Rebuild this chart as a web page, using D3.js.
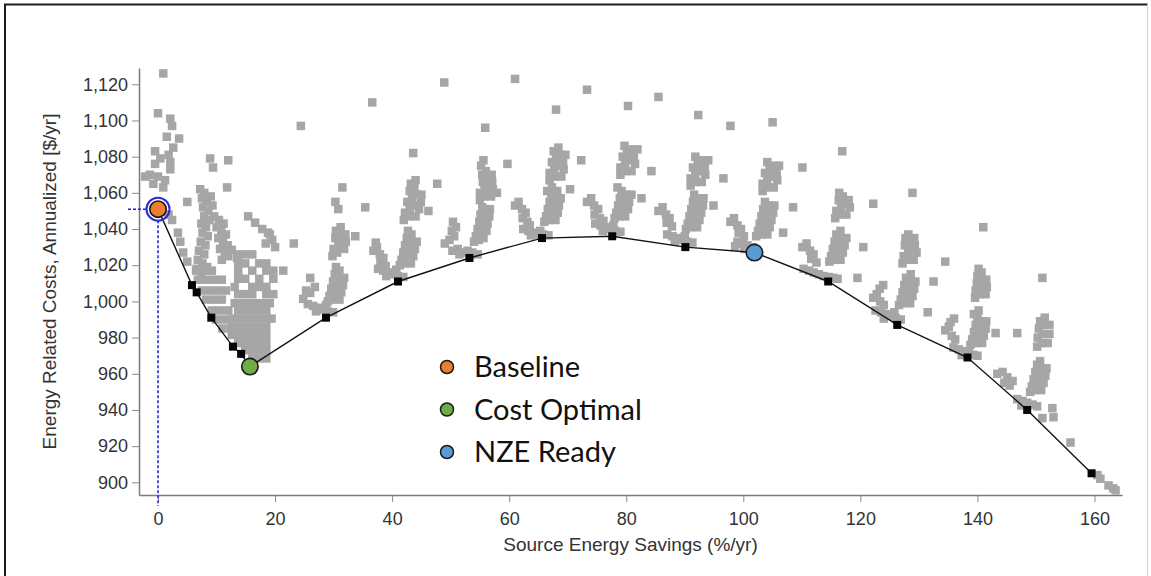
<!DOCTYPE html>
<html>
<head>
<meta charset="utf-8">
<script src="https://cdn.jsdelivr.net/npm/d3@7"></script>
<style>
  html, body { margin: 0; padding: 0; background: #fff; }
  svg { display: block; }
</style>
</head>
<body>
<svg id="chart" width="1151" height="576"></svg>
<script>
// Axis ticks
const xTicks = [0, 20, 40, 60, 80, 100, 120, 140, 160];
const yTicks = [900, 920, 940, 960, 980, 1000, 1020, 1040, 1060, 1080, 1100, 1120];

// Least-cost curve (source energy savings %, annualized cost $/yr)
const frontierSavings = [0, 5.8, 6.6, 9.1, 12.8, 14.2, 15.7, 28.7, 41.0, 53.2, 65.6, 77.6, 90.1, 101.9, 114.5, 126.3, 138.3, 148.5, 159.5];
const frontierCosts   = [1051, 1009, 1005, 991, 975, 971, 964, 991, 1011, 1024, 1035, 1036, 1030, 1027, 1011, 987, 969, 940, 905];

// Highlighted packages on the curve (index into the curve arrays)
const legendLabels = ["Baseline", "Cost Optimal", "NZE Ready"];
const legendColors = ["#ED7D31", "#70AD47", "#5B9BD5"];
const highlightIndex = [0, 6, 13];

// Simulated design options [savings %, cost $/yr]
const designsNearBaseline = [
  [0.9,1126],[0,1104],[2.1,1101],[2.4,1097],[1.5,1091],[3.6,1090],[2.6,1085],[-0.5,1083],
  [2.1,1077],[-0.5,1076],[-1.4,1070],[-2.2,1069],[0,1069],[-0.8,1065],[0.9,1063],[1.2,1067],
  [2.1,1073],[0.4,1079],[1.8,1081],
  [2.4,1045],[3.4,1038],[3.8,1033],[4.3,1027],[5.0,1022],[1.8,1048],
  [8.9,1079],[12.0,1078],[9.4,1074],[11.8,1063],[5.0,1055],[24.4,1097],[36.6,1110]
];

const designsLowSavings = [
  // first column
  [7.2,1062],[7.9,1060],[7.5,1057],[8.3,1055],[7.7,1052],[8.6,1050],[7.9,1047],[8.8,1045],
  [7.4,1043],[8.2,1041],[7.6,1038],[8.5,1036],[7.3,1033],[8.1,1031],[7.0,1028],[7.9,1026],
  [6.8,1023],[7.6,1021],[8.4,1019],[6.6,1018],[7.4,1016],[9.0,1058],[9.3,1053],
  [9.6,1047],[10.4,1045],[11.2,1043],[10.0,1041],[10.8,1039],[11.6,1037],[10.3,1035],[11.1,1033],
  [11.9,1031],[10.6,1029],[11.4,1027],[12.0,1025],[10.9,1023],[12.6,1028.5],[13.5,1024],
  [6.5,1017],[7.9,1017],[9.2,1017],[6.8,1012],[8.2,1012],[9.6,1012],[10.9,1012],
  [7.5,1006],[8.9,1006],[10.3,1006],[11.6,1006],[8.2,1001],[9.6,1001],[10.9,1001],
  [9.2,995],[10.6,995],[12.0,995],[9.9,990],[11.3,990],[12.4,985],[11.0,985],
  // second column
  [13.7,1026],[14.9,1026],[16.1,1026],
  [13.7,1021],[14.9,1021],[17.3,1021],[18.5,1021],
  [13.7,1017],[16.1,1017],[18.5,1017],[19.7,1017],
  [13.7,1012.5],[14.9,1012.5],[17.3,1012.5],[19.7,1012.5],
  [13.1,1008],[16.1,1008],[17.3,1008],[18.5,1008],
  [13.7,1004],[14.9,1004],[16.1,1004],[18.5,1004],[19.7,1004],
  [13.1,999],[14.3,999],[15.5,999],[16.7,999],[17.9,999],[19.1,999],
  [13.7,995],[14.9,995],[16.1,995],[17.3,995],[18.5,995],
  [12.6,990.5],[13.7,990.5],[14.9,990.5],[16.1,990.5],[17.3,990.5],[18.5,990.5],[19.4,990.5],
  [12.6,986],[13.7,986],[14.9,986],[16.1,986],[17.3,986],[18.5,986],
  [12.6,981.5],[13.7,981.5],[14.9,981.5],[16.1,981.5],[17.3,981.5],[18.5,981.5],
  [13.7,977],[14.9,977],[16.1,977],[17.3,977],[18.5,977],
  [14.9,973],[16.1,973],[17.3,973],[18.5,973],
  [16.1,968.5],[17.3,968.5],[18.5,968.5],
  [15.4,1047],[16.6,1043.5],[17.8,1040],[18.8,1038],[19.5,1034],[18.4,1032],[20.0,1030],[19.1,1037],
  [21.4,1017],[23.2,1032],
  // around 29 %
  [25.6,998.5],[26.5,997.5],[27.3,996.5],[28.2,995.5],[29.0,994.5],[29.9,994],[27.0,994.5],[28.7,998],
  [24.8,1001.4],[26.0,1004.7],[26.8,1008],[26.0,1013],[25.3,1006],
  [29.0,1000],[29.8,1001],[29.3,1003],[30.2,1005],[29.6,1007],[30.5,1009],[29.9,1011],[30.8,1013],
  [30.2,1015],[31.0,1017],[30.4,1019],
  [31.0,1001],[31.3,1005],[31.6,1009],[31.8,1013],
  [29.8,1025],[30.6,1027],[30.0,1029],[30.8,1031],[31.5,1033],[30.3,1035],[31.0,1037],[30.4,1039],
  [31.2,1041],[30.3,1055],[30.8,1051],
  [31.8,1029],[32.1,1033],[32.0,1037],
  [31.5,1063],[35.4,1052],[33.7,1036],
  // around 41 %
  [37.6,1018],[38.5,1017],[39.3,1016],[40.2,1015],[41.0,1014],[41.9,1013.5],[39.0,1014],[40.7,1017.5],
  [36.8,1028],[37.4,1030],[37.9,1026],[38.5,1024],[38.0,1021.5],[38.9,1019.5],[37.2,1032.5],
  [41.3,1020],[42.1,1021],[41.6,1023],[42.5,1025],[41.9,1027],[42.8,1029],[42.2,1031],[43.1,1033],
  [42.5,1035],[43.3,1037],[42.7,1039],
  [43.2,1021],[43.6,1025],[43.9,1029],[44.2,1033],
  [42.0,1045],[42.8,1047],[42.2,1049],[43.0,1051],[43.8,1053],[42.6,1055],[43.4,1057],[44.2,1059],
  [43.0,1061],[43.8,1063],[43.2,1065],[44.0,1067],
  [44.0,1047],[44.6,1051],[44.9,1055],[45.0,1059],
  [43.6,1082],[46.2,1050],[47.7,1065]
];

const designsMidSavings = [
  // around 53 %
  [50.3,1028],[51.2,1029],[52.0,1027],[52.9,1028],[53.7,1027],[54.6,1026],[51.5,1026],[53.3,1025.5],
  [49.0,1032],[49.8,1034],[50.6,1036],[50.2,1039],[50.9,1041],[50.4,1044],
  [54.0,1033],[54.8,1034],[54.3,1036],[55.2,1038],[54.6,1040],[55.5,1042],[54.9,1044],[55.6,1046],
  [55.1,1048],[55.8,1050],[55.4,1052],
  [55.6,1035],[56.1,1039],[56.3,1043],[56.6,1047],[56.7,1051],
  [55.0,1056],[55.7,1058],[55.0,1060],[55.8,1062],[56.6,1064],[55.5,1066],[56.2,1068],[55.4,1070],
  [56.0,1072],[55.2,1075],[55.6,1078],
  [56.9,1058],[57.2,1062],[57.1,1066],[57.0,1070],
  [48.9,1121],[55.9,1096],[59.7,1076],[57.9,1060],[61.0,1123],
  // around 66 %
  [62.4,1040],[63.3,1039],[64.1,1038],[65.0,1037],[65.8,1037],[66.7,1036.5],[63.7,1036.5],[65.3,1039],
  [61.0,1053],[61.6,1055],[62.2,1051],[62.8,1049],[62.3,1046],[63.1,1044],[63.5,1042],
  [66.0,1044],[66.8,1045],[66.3,1047],[67.2,1049],[66.6,1051],[67.5,1053],[66.9,1055],[67.8,1057],
  [67.2,1059],[66.5,1061],[67.3,1063],
  [67.9,1045],[68.3,1049],[68.5,1053],[68.8,1057],[68.2,1061],
  [66.9,1067],[67.7,1069],[66.9,1071],[67.7,1073],[68.5,1075],[67.3,1077],[68.0,1079],[68.8,1081],
  [67.6,1083],[68.4,1085],
  [68.9,1069],[69.3,1073],[69.2,1077],[69.6,1081],
  [68.0,1106],[73.3,1117],[72.3,1078],[70.4,1062],
  // around 78 %
  [74.7,1043],[75.6,1042],[76.4,1041],[77.3,1040],[78.1,1039],[79.0,1038.5],[76.0,1039],[77.8,1042],
  [73.3,1055],[74.0,1057],[74.5,1053],[75.2,1051],[74.6,1048],[75.5,1046],[76.1,1044.5],
  [78.0,1046],[78.8,1047],[78.3,1049],[79.2,1051],[78.6,1053],[79.5,1055],[78.9,1057],[79.8,1059],
  [79.2,1061],[78.5,1063],
  [79.8,1047],[80.3,1051],[80.5,1055],[80.9,1059],
  [79.0,1070],[79.8,1072],[79.0,1074],[79.8,1076],[80.6,1078],[79.4,1080],[80.1,1082],[80.9,1084],
  [79.7,1086],
  [80.9,1072],[81.5,1076],[81.3,1080],[81.9,1084],
  [80.3,1108],[84.3,1072],[82.6,1057],[85.5,1113],
  // around 90 %
  [87.0,1037],[87.9,1036],[88.7,1035],[89.6,1034],[90.4,1033],[91.3,1032.5],[88.3,1033],[90.0,1036],
  [85.5,1050],[86.2,1052],[86.8,1048],[87.4,1046],[86.9,1043.5],[87.8,1041.5],
  [90.2,1040],[91.0,1041],[90.5,1043],[91.4,1045],[90.8,1047],[91.7,1049],[91.1,1051],[92.0,1053],
  [91.4,1055],[92.2,1057],[91.6,1059],
  [92.1,1041],[92.5,1045],[92.8,1049],[93.1,1053],[93.2,1057],
  [91.0,1064],[91.8,1066],[91.0,1068],[91.8,1070],[92.6,1072],[91.4,1074],[92.2,1076],[93.0,1078],
  [91.8,1080],
  [92.9,1066],[93.5,1070],[93.4,1074],[94.0,1078],
  [92.3,1103],[96.6,1068],[94.9,1053],
  // around 102 %
  [99.0,1033],[99.9,1032],[100.7,1031],[101.6,1030],[100.2,1029],[98.6,1030.5],
  [97.8,1044],[98.4,1046],[99.0,1042],[99.6,1040],[99.2,1038],[100.1,1036],
  [102.2,1036],[103.0,1037],[102.5,1039],[103.4,1041],[102.8,1043],[103.7,1045],[103.1,1047],[104.0,1049],
  [103.4,1051],[104.3,1053],[103.7,1055],
  [104.1,1037],[104.5,1041],[104.8,1045],[105.1,1049],[105.3,1053],
  [103.3,1061],[104.1,1063],[103.3,1065],[104.1,1067],[104.9,1069],[103.7,1071],[104.5,1073],[105.3,1075],
  [104.1,1077],
  [105.2,1063],[105.8,1067],[105.7,1071],[106.1,1075],
  [97.8,1097],[105.0,1099],[110.1,1074],[108.5,1052],[106.8,1038]
];

const designsHighSavings = [
  // around 115 %
  [110.3,1018],[111.2,1017],[112.0,1016],[112.9,1015],[113.7,1014],[114.6,1013.5],[115.4,1013],[116.1,1012.5],
  [110.1,1030],[110.8,1032],[111.4,1028],[112.0,1026],[111.6,1023.5],[112.5,1021.5],
  [114.7,1022],[115.5,1023],[115.0,1025],[115.9,1027],[115.3,1029],[116.2,1031],[115.6,1033],[116.5,1035],
  [115.9,1037],[116.6,1039],
  [116.6,1023],[117.0,1027],[117.3,1031],[117.6,1035],
  [115.7,1046],[116.5,1048],[115.9,1050],[116.7,1052],[117.5,1054],[116.3,1056],[117.0,1058],[116.4,1060],
  [117.6,1048],[118.2,1052],[118.0,1056],
  [116.9,1083],[122.2,1054],[120.5,1030],[119.5,1013],[128.9,1060],
  // around 126 %
  [122.6,995],[123.5,994],[124.3,993],[125.2,992],[126.0,991],[126.9,990],[124.0,990.5],[125.8,994],
  [122.2,1002],[122.8,1004],[123.4,1000],[124.0,998],[123.3,1007],[123.9,1009],
  [126.6,998],[127.4,999],[126.9,1001],[127.8,1003],[127.2,1005],[128.1,1007],[127.5,1009],[128.4,1011],
  [127.8,1013],[128.6,1015],
  [128.5,999],[128.9,1003],[129.2,1007],[129.4,1011],
  [127.2,1021],[128.0,1023],[127.4,1025],[128.2,1027],[128.9,1029],[127.6,1031],[128.3,1033],[127.7,1035],
  [128.2,1037],
  [129.1,1023],[129.6,1027],[129.3,1031],[129.2,1035],
  [134.5,1022],[132.5,1011],[131.5,994],[141.0,1041],
  // around 138 %
  [135.9,974.5],[136.8,973.5],[137.6,972.5],[138.5,971.5],[139.3,970.5],[140.0,970],[137.3,970.3],
  [134.5,984],[135.1,986],[135.6,981],[136.2,979],[135.4,988.5],[136.0,990.5],
  [138.8,976],[139.6,977],[139.1,979],[140.0,981],[139.4,983],[140.3,985],[139.7,987],[140.6,989],
  [140.0,991],[139.4,993],[140.2,995],
  [140.8,977],[141.1,981],[141.4,985],[141.5,989],
  [139.6,1002],[140.4,1004],[139.7,1006],[140.5,1008],[139.9,1010],[140.6,1012],[140.0,1014],[140.7,1016],
  [140.2,1018],
  [141.4,1004],[141.6,1008],[141.5,1012],
  [143.1,982.5],[146.8,982.5],[151.1,1013],
  // around 148 %
  [146.8,946],[147.7,945],[148.5,944],[149.4,943],[150.2,942],[147.5,942.5],
  [143.4,960],[144.3,961],[145.1,958],[146.0,956],[145.5,953.5],[144.6,955],
  [149.0,950],[149.8,951],[149.3,953],[150.2,955],[149.6,957],[150.5,959],[149.9,961],[150.8,963],
  [150.2,965],[150.7,967],
  [150.9,951],[151.3,955],[151.6,959],[151.8,963],
  [150.2,975],[150.9,977],[150.3,980],[151.1,982],[150.5,985],[151.3,987],[150.7,989],[151.5,991],
  [152.0,977],[152.3,982],[152.3,987],
  [152.8,941],[153.0,936],[151.1,935.5],[155.9,922],
  // tail
  [160.5,904],[161.0,902],[162.4,898.3],[163.2,896.7],[163.6,895.6]
];

const designs = [].concat(designsNearBaseline, designsLowSavings, designsMidSavings, designsHighSavings);

// ---- layout ----
const svg = d3.select("#chart");
const plot = { left: 139, right: 1122, top: 68, bottom: 495 };

const x = d3.scaleLinear().domain([-3.25, 164.7]).range([plot.left, plot.right]);
const y = d3.scaleLinear().domain([893, 1129]).range([plot.bottom, plot.top]);

// outer frame
svg.append("path")
  .attr("d", `M5,576 L5,4.5 L1147.5,4.5`)
  .attr("fill", "none").attr("stroke", "#1e1e1e").attr("stroke-width", 2);
svg.append("line")
  .attr("x1", 1147.5).attr("x2", 1147.5).attr("y1", 4.5).attr("y2", 576)
  .attr("stroke", "#d0d0d0").attr("stroke-width", 1);

const tickFont = "'Liberation Sans', Arial, sans-serif";

// axes
const yAxis = d3.axisLeft(y).tickValues(yTicks).tickSize(7).tickSizeOuter(0).tickPadding(4)
  .tickFormat(d3.format(","));
const xAxis = d3.axisBottom(x).tickValues(xTicks).tickSize(7).tickSizeOuter(0).tickPadding(10);

const gy = svg.append("g").attr("transform", `translate(${plot.left},0)`).call(yAxis);
const gx = svg.append("g").attr("transform", `translate(0,${plot.bottom})`).call(xAxis);

[gx, gy].forEach(g => {
  g.select(".domain").attr("stroke", "#7a7a7a").attr("stroke-width", 1.5);
  g.selectAll(".tick line").attr("stroke", "#8a8a8a");
  g.selectAll(".tick text").attr("fill", "#333").style("font-family", tickFont).style("font-size", "18px");
});

// axis titles
svg.append("text")
  .attr("x", (plot.left + plot.right) / 2).attr("y", 551)
  .attr("text-anchor", "middle")
  .style("font-family", tickFont).style("font-size", "19px").attr("fill", "#333")
  .text("Source Energy Savings (%/yr)");

svg.append("text")
  .attr("transform", `translate(56,${(plot.top + plot.bottom) / 2}) rotate(-90)`)
  .attr("text-anchor", "middle")
  .style("font-family", tickFont).style("font-size", "19px").attr("fill", "#333")
  .text("Energy Related Costs, Annualized [$/yr]");

// design options
const sq = 8.5;
svg.append("g").selectAll("rect").data(designs).join("rect")
  .attr("x", d => x(d[0]) - sq / 2)
  .attr("y", d => y(d[1]) - sq / 2)
  .attr("width", sq).attr("height", sq)
  .attr("fill", "#a6a6a6");

// least-cost curve
const frontier = frontierSavings.map((s, i) => [s, frontierCosts[i]]);
svg.append("path")
  .datum(frontier)
  .attr("d", d3.line().x(d => x(d[0])).y(d => y(d[1])))
  .attr("fill", "none").attr("stroke", "#141414").attr("stroke-width", 1.4);

const bs = 8;
svg.append("g").selectAll("rect")
  .data(frontier.filter((d, i) => !highlightIndex.includes(i)))
  .join("rect")
  .attr("x", d => x(d[0]) - bs / 2)
  .attr("y", d => y(d[1]) - bs / 2)
  .attr("width", bs).attr("height", bs)
  .attr("fill", "#050505");

// baseline crosshair
const base = frontier[highlightIndex[0]];
const bx = x(base[0]), by = y(base[1]);
svg.append("line")
  .attr("x1", 128).attr("x2", bx - 11).attr("y1", by).attr("y2", by)
  .attr("stroke", "#1a1ae6").attr("stroke-width", 1.5).attr("stroke-dasharray", "3,2");
svg.append("line")
  .attr("x1", bx).attr("x2", bx).attr("y1", by + 11).attr("y2", 506)
  .attr("stroke", "#1a1ae6").attr("stroke-width", 1.5).attr("stroke-dasharray", "3,2");
svg.append("circle")
  .attr("cx", bx).attr("cy", by).attr("r", 11.5)
  .attr("fill", "none").attr("stroke", "#2a2ae0").attr("stroke-width", 2);

// highlighted packages
svg.append("g").selectAll("circle")
  .data(highlightIndex).join("circle")
  .attr("cx", i => x(frontier[i][0]))
  .attr("cy", i => y(frontier[i][1]))
  .attr("r", 8.2)
  .attr("fill", (i, k) => legendColors[k])
  .attr("stroke", "#1a1a1a").attr("stroke-width", 1.6);

// legend
const legend = svg.append("g").attr("transform", "translate(447,367)");
legendLabels.forEach((label, k) => {
  const row = legend.append("g").attr("transform", `translate(0,${k * 42.5})`);
  row.append("circle").attr("r", 6.5)
    .attr("fill", legendColors[k]).attr("stroke", "#1a1a1a").attr("stroke-width", 1.5);
  row.append("text").attr("x", 27).attr("y", 0).attr("dy", "0.36em")
    .style("font-family", "Lato, 'Open Sans', sans-serif").style("font-size", "29px")
    .attr("fill", "#111")
    .text(label);
});
</script>
</body>
</html>
